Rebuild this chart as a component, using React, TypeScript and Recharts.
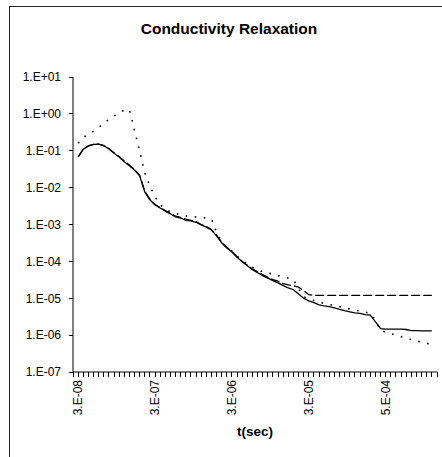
import { Line, LineChart, XAxis, YAxis } from "recharts";

const FONT = '"Liberation Sans", Arial, sans-serif';

// category index of each labelled time on the x axis
const xTickIndex = [1, 16, 31, 46, 61];
const xTickLabels = ["3.E-08", "3.E-07", "3.E-06", "3.E-05", "5.E-04"];

const yTicks = [1e-7, 1e-6, 1e-5, 1e-4, 1e-3, 1e-2, 1e-1, 1, 10];
const yTickLabels = ["1.E-07", "1.E-06", "1.E-05", "1.E-04", "1.E-03", "1.E-02", "1.E-01", "1.E+00", "1.E+01"];

// series values, one per category (categories 1..70)
const solid = [
  6.8e-2, 1.1e-1, 1.35e-1, 1.48e-1, 1.51e-1, 1.38e-1, 1.12e-1, 8.5e-2, 6.8e-2, 5.0e-2,
  3.9e-2, 3.0e-2, 2.1e-2, 7.6e-3, 4.7e-3, 3.4e-3, 2.8e-3, 2.3e-3, 1.95e-3, 1.6e-3,
  1.5e-3, 1.3e-3, 1.26e-3, 1.15e-3, 9.8e-4, 8.5e-4, 7.1e-4, 4.9e-4, 3.2e-4, 2.3e-4,
  1.8e-4, 1.3e-4, 9.8e-5, 7.6e-5, 5.9e-5, 4.9e-5, 4.1e-5, 3.5e-5, 3.0e-5, 2.6e-5,
  2.2e-5, 1.9e-5, 1.7e-5, 1.3e-5, 1.0e-5, 8.5e-6, 7.6e-6, 6.6e-6, 6.2e-6, 5.9e-6,
  5.5e-6, 5.0e-6, 4.6e-6, 4.3e-6, 4.0e-6, 3.9e-6, 3.6e-6, 3.5e-6, 2.3e-6, 1.5e-6,
  1.45e-6, 1.45e-6, 1.45e-6, 1.45e-6, 1.42e-6, 1.32e-6, 1.32e-6, 1.31e-6, 1.3e-6, 1.3e-6,
];

const dashed = [
  6.8e-2, 1.1e-1, 1.35e-1, 1.48e-1, 1.51e-1, 1.38e-1, 1.15e-1, 8.8e-2, 7.0e-2, 5.3e-2,
  4.1e-2, 3.1e-2, 2.2e-2, 8.0e-3, 4.9e-3, 3.5e-3, 2.9e-3, 2.4e-3, 2.0e-3, 1.7e-3,
  1.55e-3, 1.4e-3, 1.3e-3, 1.2e-3, 1.0e-3, 8.8e-4, 7.3e-4, 5.1e-4, 3.3e-4, 2.4e-4,
  1.85e-4, 1.35e-4, 1.0e-4, 7.9e-5, 6.2e-5, 5.2e-5, 4.4e-5, 3.7e-5, 3.2e-5, 2.9e-5,
  2.5e-5, 2.3e-5, 2.2e-5, 2.0e-5, 1.6e-5, 1.25e-5, 1.2e-5, 1.2e-5, 1.2e-5, 1.2e-5,
  1.2e-5, 1.2e-5, 1.2e-5, 1.2e-5, 1.2e-5, 1.2e-5, 1.2e-5, 1.2e-5, 1.2e-5, 1.2e-5,
  1.2e-5, 1.2e-5, 1.2e-5, 1.2e-5, 1.2e-5, 1.2e-5, 1.2e-5, 1.2e-5, 1.2e-5, 1.2e-5,
];

const dotted = [
  1.6e-1, 2.3e-1, 2.8e-1, 3.4e-1, 4.3e-1, 5.5e-1, 7.1e-1, 8.7e-1, 1.07, 1.26,
  1.3, 3.5e-1, 1.0e-1, 2.5e-2, 1.1e-2, 5.6e-3, 3.5e-3, 2.6e-3, 2.2e-3, 2.0e-3,
  1.8e-3, 1.7e-3, 1.66e-3, 1.6e-3, 1.55e-3, 1.5e-3, 1.4e-3, 6.3e-4, 3.3e-4, 2.4e-4,
  1.9e-4, 1.4e-4, 1.07e-4, 8.5e-5, 6.9e-5, 6.0e-5, 5.2e-5, 4.9e-5, 4.5e-5, 4.1e-5,
  3.8e-5, 3.5e-5, 3.2e-5, 1.8e-5, 1.1e-5, 9.5e-6, 8.7e-6, 7.9e-6, 7.2e-6, 6.8e-6,
  6.3e-6, 5.9e-6, 5.5e-6, 5.1e-6, 4.8e-6, 4.5e-6, 4.2e-6, 3.9e-6, 2.5e-6, 1.35e-6,
  1.2e-6, 1.1e-6, 1.0e-6, 9.1e-7, 8.3e-7, 7.6e-7, 6.9e-7, 6.5e-7, 6.0e-7, 5.6e-7,
];

const categoryCount = 72;

const data = solid.map((v, i) => ({
  k: i + 1,
  solid: v,
  dashed: dashed[i],
  dotted: dotted[i],
}));

const allTicks = Array.from({ length: categoryCount }, (_, i) => i);

const TICK_LEN = 4;
const X_GAP = 4;
const Y_GAP = 8;

function XTick(props: any) {
  const { x, y, payload } = props;
  const idx = xTickIndex.indexOf(payload.value);
  return (
    <g transform={`translate(${x},${y})`}>
      <line
        x1={0}
        x2={0}
        y1={-X_GAP - TICK_LEN}
        y2={-X_GAP + 0.5}
        stroke="#000"
        strokeWidth={1}
        shapeRendering="crispEdges"
      />
      {idx >= 0 && (
        <text
          transform="rotate(-90)"
          textAnchor="end"
          dy="0.36em"
          fontSize={12}
          fontFamily={FONT}
          fill="#000"
        >
          {xTickLabels[idx]}
        </text>
      )}
    </g>
  );
}

function YTick(props: any) {
  const { x, y, payload } = props;
  const idx = yTicks.indexOf(payload.value);
  return (
    <g transform={`translate(${x},${y})`}>
      <line
        x1={Y_GAP - 0.5}
        x2={Y_GAP + TICK_LEN}
        y1={0}
        y2={0}
        stroke="#000"
        strokeWidth={1}
        shapeRendering="crispEdges"
      />
      <text textAnchor="end" dy="0.36em" fontSize={12} fontFamily={FONT} fill="#000">
        {yTickLabels[idx] ?? ""}
      </text>
    </g>
  );
}

export default function App() {
  return (
    <div
      style={{
        position: "absolute",
        left: 0,
        top: 0,
        width: 442,
        height: 457,
        overflow: "hidden",
        background: "#fff",
        fontFamily: FONT,
      }}
    >
      <div
        style={{
          position: "absolute",
          left: 9,
          top: 6,
          width: 460,
          height: 470,
          border: "1px solid #222",
        }}
      />
      <div
        style={{
          position: "absolute",
          left: 9,
          width: 440,
          top: 20,
          textAlign: "center",
          fontWeight: "bold",
          fontSize: 15.5,
        }}
      >
        Conductivity Relaxation
      </div>
      <div
        style={{
          position: "absolute",
          left: 205,
          width: 100,
          top: 424,
          textAlign: "center",
          fontWeight: "bold",
          fontSize: 13.5,
        }}
      >
        t(sec)
      </div>
      <div style={{ position: "absolute", left: 0, top: 0 }}>
        <LineChart
          width={442}
          height={457}
          data={data}
          margin={{ top: 77, right: 5, bottom: 0, left: 0 }}
        >
          <XAxis
            type="number"
            dataKey="k"
            domain={[0, categoryCount - 1]}
            ticks={allTicks}
            interval={0}
            tick={<XTick />}
            tickLine={false}
            tickSize={TICK_LEN}
            tickMargin={X_GAP}
            height={85}
            stroke="#000"
            allowDataOverflow
          />
          <YAxis
            type="number"
            scale="log"
            domain={[1e-7, 10]}
            ticks={yTicks}
            interval={0}
            allowDataOverflow
            width={73}
            tickSize={TICK_LEN}
            tickMargin={Y_GAP}
            tickLine={false}
            stroke="#000"
            tick={<YTick />}
          />
          <Line
            type="linear"
            dataKey="dotted"
            stroke="#000"
            strokeWidth={1.6}
            strokeDasharray="1.6 7.5"
            dot={false}
            isAnimationActive={false}
          />
          <Line
            type="linear"
            dataKey="dashed"
            stroke="#000"
            strokeWidth={1.3}
            strokeDasharray="9 3"
            dot={false}
            isAnimationActive={false}
          />
          <Line
            type="linear"
            dataKey="solid"
            stroke="#000"
            strokeWidth={1.3}
            dot={false}
            isAnimationActive={false}
          />
        </LineChart>
      </div>
    </div>
  );
}
